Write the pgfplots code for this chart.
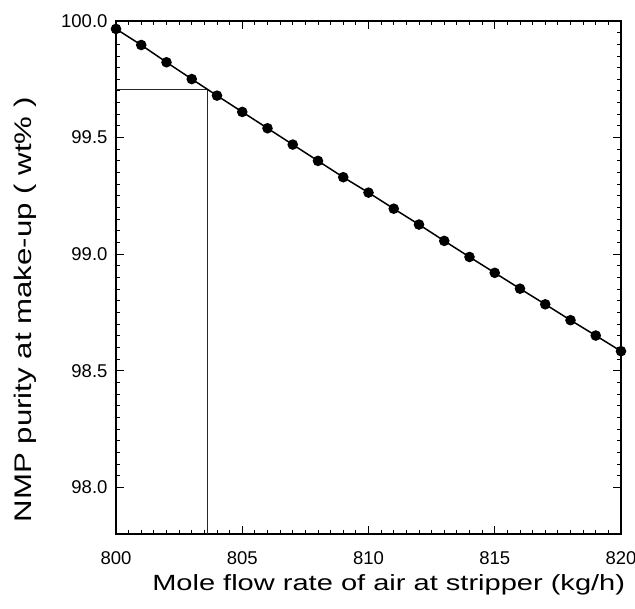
\documentclass[border=0pt]{standalone}
\usepackage{fontspec}
\setmainfont{Liberation Sans}
\usepackage{pgfplots}
\pgfplotsset{compat=1.18}

\begin{document}
\begin{tikzpicture}
\begin{axis}[
    name=ax,
    scale only axis,
    width=505pt, height=513pt,
    xmin=800, xmax=820, ymin=97.8, ymax=100.0,
    xtick={800,805,...,820},
    ytick={98.0,98.5,...,100.0},
    minor x tick num=9, minor y tick num=9,
    tick align=inside, tick pos=both,
    major tick length=8pt, minor tick length=4pt,
    every tick/.style={black, line width=0.9pt},
    axis line style={black, line width=1.6pt},
    /pgf/number format/assume math mode=true,
    yticklabel style={font=\fontsize{18.5}{20}\selectfont,
                      /pgf/number format/fixed,
                      /pgf/number format/fixed zerofill,
                      /pgf/number format/precision=1, xshift=-5pt},
    xticklabel style={font=\fontsize{18.5}{20}\selectfont,
                      /pgf/number format/fixed,
                      /pgf/number format/precision=0,
                      anchor=base, yshift=-31pt},
    scaled y ticks=false, scaled x ticks=false,
    xlabel={\scalebox{1.32}[1]{Mole flow rate of air at stripper (kg/h)}},
    ylabel={\scalebox{1.3}[1]{NMP purity at make-up ( wt\% )}},
    xlabel style={font=\fontsize{22}{24}\selectfont,
                  at={(axis description cs:0.54,-0.111)}, anchor=base},
    ylabel style={font=\fontsize{24}{26}\selectfont,
                  at={(axis description cs:-0.168,0.437)}, anchor=base,
                  rotate=0},
    clip=false]
  % guide lines to the operating point
  \addplot[black!85, line width=0.9pt, mark=none]
      coordinates {(800,99.708) (803.64,99.708) (803.64,97.8)};
  \addplot[black, line width=1.5pt, mark=*, mark size=4.5pt,
           mark options={fill=black}]
      coordinates {(800,99.966) (801,99.897) (802,99.823) (803,99.751)
                   (804,99.680) (805,99.610) (806,99.540) (807,99.470)
                   (808,99.400) (809,99.330) (810,99.264) (811,99.195)
                   (812,99.127) (813,99.057) (814,98.988) (815,98.920)
                   (816,98.852) (817,98.785) (818,98.717) (819,98.651)
                   (820,98.584)};
\end{axis}
\pgfresetboundingbox
\path[use as bounding box] ([xshift=-116pt,yshift=-75pt]ax.south west)
    rectangle ([xshift=14pt,yshift=21pt]ax.north east);
\end{tikzpicture}
\end{document}
